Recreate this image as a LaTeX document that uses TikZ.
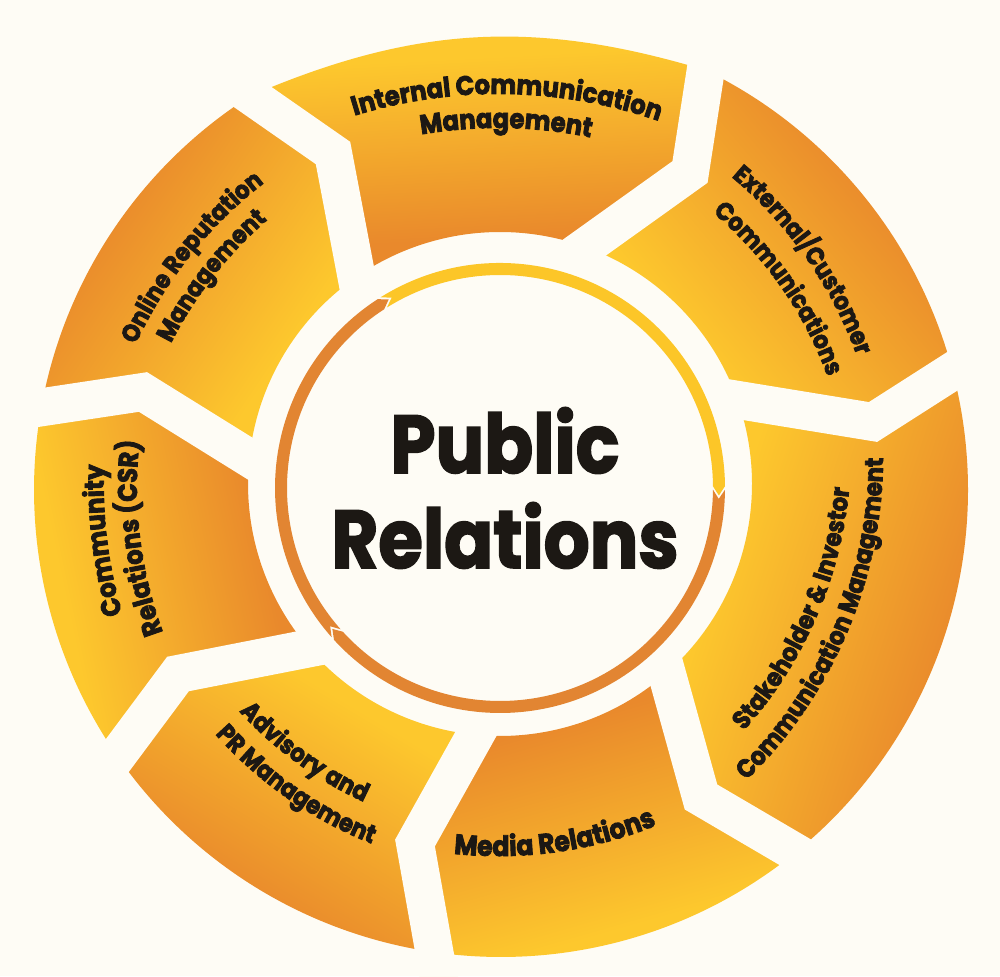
\documentclass[tikz,border=0pt]{standalone}
\usepackage{fontspec}
\usetikzlibrary{calc,decorations.text}
\newfontfamily\pf{Poppins}[FakeStretch=0.9,FakeBold=3]
\newfontfamily\pfc{Poppins}[FakeStretch=0.88,FakeBold=2]
\definecolor{bgc}{RGB}{254,252,245}
\definecolor{cY}{RGB}{253,200,45}
\definecolor{cO}{RGB}{233,137,44}
\definecolor{rY}{RGB}{252,198,40}
\definecolor{rO}{RGB}{226,133,50}
\definecolor{txt}{RGB}{28,24,20}
\colorlet{segin}{cO}
\colorlet{segout}{cY}
\pgfdeclareverticalshading[segin,segout]{segsh}{100bp}{color(0bp)=(segin); color(33bp)=(segin); color(67bp)=(segout); color(100bp)=(segout)}
\def\lsz{27}
\newcommand{\lblfont}{\pf\bfseries\fontsize{\lsz}{\lsz}\selectfont}
% arched text: reads clockwise, bends to the right
\newcommand{\archtext}[5]{%
  \pgfmathsetmacro{\tdel}{260/#4*57.2958}%
  \path[decorate,decoration={text along path,text align=center,text color=txt,text={|\lblfont|#5}}]
    ($(#1,976-#2)+(#3-90:#4)+(#3+90+\tdel:#4)$) arc[start angle={#3+90+\tdel}, end angle={#3+90-\tdel}, radius=#4];}
% smile text: reads counterclockwise, bends to the left
\newcommand{\smiletext}[5]{%
  \pgfmathsetmacro{\tdel}{260/#4*57.2958}%
  \path[decorate,decoration={text along path,text align=center,text color=txt,text={|\lblfont|#5}}]
    ($(#1,976-#2)+(#3+90:#4)+(#3-90-\tdel:#4)$) arc[start angle={#3-90-\tdel}, end angle={#3-90+\tdel}, radius=#4];}
% segment: outer start/end angle, inner start/end angle, start/end boundary letter, outer colour, inner colour, shading angle
\newcommand{\segment}[9]{%
  \shade[shading=segsh, shading angle=#9, /utils/exec={\colorlet{segout}{#7}\colorlet{segin}{#8}}]
    (o#5) arc[start angle=#1, end angle=#2, radius=467] -- (m#6) -- (i#6)
    arc[start angle=#4, end angle=#3, radius=252] -- (m#5) -- cycle;}
\newcommand{\ringarrow}[3]{%
  \fill[#3] ($(RC)+(#1:225)$) arc[start angle=#1, end angle=#2, radius=225]
    -- ($(RC)+(#2-2.4:219)$) -- ($(RC)+(#2:213)$) arc[start angle=#2, end angle=#1, radius=213]
    -- ($(RC)+(#1-2.4:219)$) -- cycle;}
\tikzset{gapline/.style={draw=bgc, line width=38pt, line join=miter, line cap=butt}}
\begin{document}
\begin{tikzpicture}[x=1pt,y=1pt]
\useasboundingbox (0,0) rectangle (1000,976);
\fill[bgc] (0,0) rectangle (1000,976);
\coordinate (Oo) at (501,486);
\coordinate (Oi) at (500,492);
\coordinate (RC) at (500,488);
% boundaries: outer, middle, inner points
\coordinate (oA) at ($(Oo)+(122.4:467)$);
\coordinate (mA) at (333,823);
\coordinate (iA) at ($(Oi)+(124.7:252)$);
\coordinate (oB) at ($(Oo)+(64.0:467)$);
\coordinate (mB) at (690,804);
\coordinate (iB) at ($(Oi)+(70.2:252)$);
\coordinate (oC) at ($(Oo)+(14.75:467)$);
\coordinate (mC) at (873,554);
\coordinate (iC) at ($(Oi)+(19.5:252)$);
\coordinate (oD) at ($(Oo)+(-50.9:467)$);
\coordinate (mD) at (701,179);
\coordinate (iD) at ($(Oi)+(-48.6:252)$);
\coordinate (oE) at ($(Oo)+(-98.2:467)$);
\coordinate (mE) at (415,133);
\coordinate (iE) at ($(Oi)+(-95.6:252)$);
\coordinate (oF) at ($(Oo)+(-145.3:467)$);
\coordinate (mF) at (178,302);
\coordinate (iF) at ($(Oi)+(-139.3:252)$);
\coordinate (oG) at ($(Oo)+(169.8:467)$);
\coordinate (mG) at (143,584);
\coordinate (iG) at ($(Oi)+(174.1:252)$);
% segments
\shade[shading=segsh, shading angle=3, /utils/exec={\colorlet{segout}{cY}\colorlet{segin}{cO}}]
  (oA) to[bend left=20] (oB) -- (mB) -- (iB) arc[start angle=70.2, end angle=124.7, radius=252] -- (mA) -- cycle;
\segment{64.0}{14.75}{70.2}{19.5}{B}{C}{cO}{cY}{-50}
\segment{14.75}{-50.9}{19.5}{-48.6}{C}{D}{cO}{cY}{-108}
\segment{-50.9}{-98.2}{-48.6}{-95.6}{D}{E}{cY}{cO}{-164}
\segment{-98.2}{-145.3}{-95.6}{-139.3}{E}{F}{cO}{cY}{-211}
\segment{-145.3}{-190.2}{-139.3}{-185.9}{F}{G}{cY}{cO}{-258}
\segment{169.8}{122.4}{174.1}{124.7}{G}{A}{cO}{cY}{56}
% gaps between segments
\foreach \b in {A,B,C,D,E,F,G}{
  \draw[gapline] ($(m\b)!1.35!(o\b)$) -- (m\b) -- ($(m\b)!1.15!(i\b)$);
}
% inner arrow ring
\ringarrow{122.05}{0.45}{rY}
\ringarrow{-0.45}{-137.55}{rO}
\ringarrow{-138.45}{-237.05}{rO}
% labels
\def\lsz{27}
\archtext{507}{94}{-1}{489}{Internal Communication}
\archtext{506}{128}{-1}{455}{Management}
\def\lsz{25}
\archtext{806}{258}{-55}{420}{External/Customer}
\archtext{781}{287}{-55}{385}{Communications}
\def\lsz{25.5}
\smiletext{816}{618}{66.5}{420}{Stakeholder {\&} Investor}
\smiletext{847}{633}{67}{454}{Communication Management}
\def\lsz{28}
\smiletext{557}{852}{8}{420}{Media Relations}
\def\lsz{25.2}
\smiletext{297}{763}{-36}{380}{Advisory and}
\smiletext{287}{798}{-35}{414}{PR Management}
\def\lsz{27}
\archtext{107}{540}{97}{450}{Community}
\archtext{140}{538}{97}{417}{Relations (CSR)}
\def\lsz{25}
\archtext{190}{256}{51.5}{430}{Online Reputation}
\archtext{213}{277}{52}{400}{Management}
% centre
\node[font=\pfc\bfseries\fontsize{82}{82}\selectfont, text=txt, anchor=base, inner sep=0pt] (pub) at (505,503) {Public};
\node[font=\pfc\bfseries\fontsize{82}{82}\selectfont, text=txt, anchor=base, inner sep=0pt] (rel) at (505,408) {Relations};
\end{tikzpicture}
\end{document}
